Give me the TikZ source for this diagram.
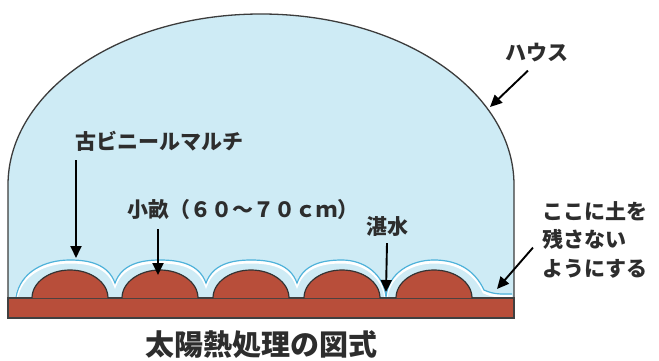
\documentclass[tikz,border=0pt]{standalone}
\usepackage{fontspec}
\newfontfamily\jp{Noto Sans CJK JP}
\usetikzlibrary{arrows.meta,positioning}
\definecolor{hausblue}{RGB}{206,235,245}
\definecolor{soilred}{RGB}{184,78,58}
\definecolor{mulchblue}{RGB}{78,178,218}
\definecolor{edgegray}{RGB}{60,60,60}
\definecolor{inkgray}{RGB}{45,45,45}

% scalloped mulch over the ridges
\newcommand\mulchpath{(16,-297) to[out=80,in=180] (70,-260) to[out=0,in=110] (115,-283)
  to[out=70,in=180] (160,-260) to[out=0,in=110] (206,-283)
  to[out=70,in=180] (251,-260) to[out=0,in=110] (297,-283)
  to[out=70,in=180] (342,-260) to[out=0,in=95] (386,-297)
  to[out=85,in=180] (434,-260) to[out=0,in=115] (484,-290) to[out=-25,in=180] (512,-294)}

\tikzset{
  pointer/.style={-{Triangle[length=12pt,width=11pt]},line width=1.9pt,black},
  lbl/.style={font=\jp\bfseries\fontsize{21}{28.5}\selectfont,inner sep=0pt,text=inkgray},
  ridge/.style={fill=soilred,draw=black!80,line width=1.2pt}
}

\begin{document}
\begin{tikzpicture}[x=1pt,y=1pt]
\useasboundingbox (0,0) rectangle (659,-361);
% house
\draw[fill=hausblue,draw=edgegray,line width=1.3pt] (8,-318) -- (8,-185)
  arc[start angle=180,end angle=0,x radius=253,y radius=171] -- (514,-318) -- cycle;
% mulch, kept above the soil
\begin{scope}
  \clip (8,-297.5) rectangle (514,-200);
  \draw[white,line width=3pt,yshift=-2pt] \mulchpath;
  \draw[mulchblue,line width=1.2pt] \mulchpath;
\end{scope}
% soil and ridges
\draw[fill=soilred,draw=black!75,line width=1.2pt] (8,-298) rectangle (514,-318);
\foreach \cx in {70,160,251,342,434}
  \draw[ridge] (\cx-38,-298) arc[start angle=180,end angle=0,x radius=38,y radius=28];

% labels
\node[lbl] (haus) at (537,-53) {ハウス};
\coordinate (haustip) at (490,-107);
\draw[pointer] ([shift={(-9pt,-8pt)}]haus.south) -- (haustip);

\node[lbl] (mulchlbl) at (159,-141) {古ビニールマルチ};
\coordinate (mulchtip) at (76,-258);
\draw[pointer] (mulchlbl.south west -| mulchtip) ++(0,-9) -- (mulchtip);

\node[lbl] (ridgelbl) at (243,-210) {小畝（６０～７０ｃｍ）};
\coordinate (ridgetip) at (158,-275);
\draw[pointer] (ridgelbl.south west -| ridgetip) ++(0,-9) -- (ridgetip);

\node[lbl] (floodlbl) at (387,-227) {湛水};
\coordinate (floodtip) at (386,-292);
\draw[pointer] ([yshift=-6pt]floodlbl.south) -- (floodtip);

\node[lbl,align=left,anchor=north west] (soillbl) at (542,-201) {ここに土を\\残さない\\ようにする};
\coordinate (soiltip) at (497,-289);
\draw[pointer] ([shift={(-9pt,-8pt)}]soillbl.west) -- (soiltip);

% caption
\node[font=\jp\bfseries\fontsize{29}{32}\selectfont,text=inkgray,inner sep=0pt] (caption) at (261,-345) {太陽熱処理の図式};
\end{tikzpicture}
\end{document}
